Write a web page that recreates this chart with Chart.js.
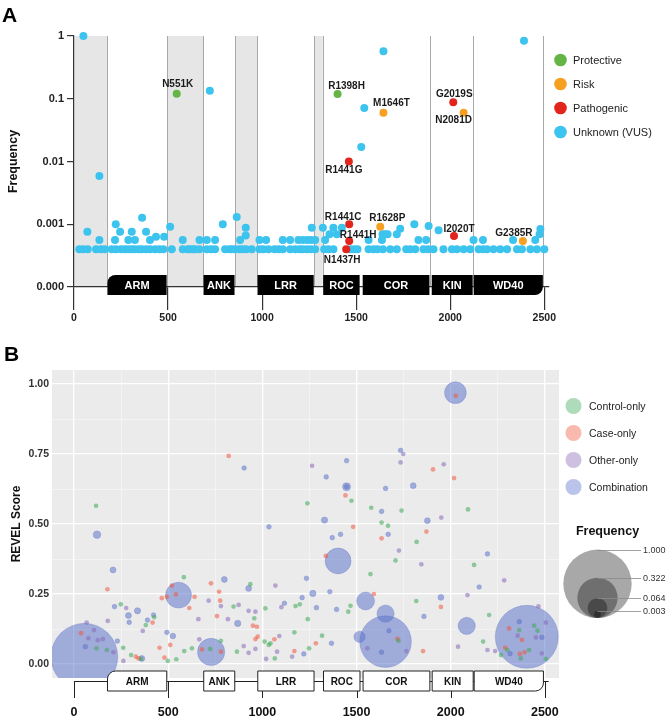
<!DOCTYPE html>
<html>
<head>
<meta charset="utf-8">
<script src="https://cdn.jsdelivr.net/npm/chart.js@4.4.1/dist/chart.umd.min.js"></script>
<style>
    body { margin: 0; background: #fff; }
    #wrapA { position: absolute; left: 0; top: 0; width: 666px; height: 330px; }
    #wrapB { position: absolute; left: 0; top: 330px; width: 666px; height: 388px; }
</style>
</head>
<body>
<div id="wrapA"><canvas id="chartA" width="666" height="330"></canvas></div>
<div id="wrapB"><canvas id="chartB" width="666" height="388"></canvas></div>
<script>
// LRRK2 domains (residues)
var domainNames = ['ARM', 'ANK', 'LRR', 'ROC', 'COR', 'KIN', 'WD40'];
var domainStart = [175, 686, 973, 1322, 1532, 1899, 2122];
var domainEnd = [495, 856, 1277, 1521, 1892, 2122, 2495];
var xTicks = [0, 500, 1000, 1500, 2000, 2500];

// panel A
var freqTicks = [1, 0.1, 0.01, 0.001, 0.0001];
var freqTickLabels = ['1', '0.1', '0.01', '0.001', '0.000'];

var protectiveNames = ['N551K', 'R1398H'];
var protectivePos = [546, 1401];
var protectiveFreq = [0.12, 0.119];

var riskNames = ['M1646T', 'N2081D', 'R1628P', 'G2385R'];
var riskPos = [1645, 2071, 1628, 2386];
var riskFreq = [0.06, 0.06, 0.00091, 0.00054];

var pathoNames = ['R1441G', 'G2019S', 'R1441C', 'R1441H', 'N1437H', 'I2020T'];
var pathoPos = [1461, 2016, 1463, 1463, 1447, 2020];
var pathoFreq = [0.01, 0.088, 0.001, 0.00054, 0.0004, 0.00065];

// unknown (VUS): [position, frequency]
var vusPoints = [
    [50, 1.0], [135, 0.0059], [722, 0.134], [1645, 0.57], [1543, 0.071], [1527, 0.017], [2392, 0.84],
    [362, 0.00127], [865, 0.0013], [222, 0.001], [791, 0.001], [511, 0.00091], [913, 0.00088],
    [1264, 0.00088], [1323, 0.00088], [1379, 0.00088], [1424, 0.00088], [1734, 0.00085], [1809, 0.001],
    [1885, 0.00094], [1938, 0.0008], [2479, 0.00084],
    [71, 0.00076], [245, 0.00076], [307, 0.00076], [383, 0.00076],
    [436, 0.00063], [479, 0.00063], [913, 0.00066], [1358, 0.00069], [1397, 0.00069], [1640, 0.00069],
    [1654, 0.00069], [1667, 0.00069], [1716, 0.00069], [2475, 0.00069],
    [135, 0.00056], [218, 0.00056], [289, 0.00056], [324, 0.00056], [404, 0.00056], [578, 0.00056],
    [667, 0.00056], [706, 0.00056], [750, 0.00056], [883, 0.00056], [986, 0.00056], [1021, 0.00056],
    [1110, 0.00056], [1149, 0.00056], [1193, 0.00056], [1216, 0.00056], [1240, 0.00056], [1260, 0.00056],
    [1282, 0.00056], [1335, 0.00056], [1566, 0.00056], [1637, 0.00056], [1831, 0.00056], [1872, 0.00056],
    [2124, 0.00056], [2174, 0.00056], [2334, 0.00056], [2452, 0.00056],
    [28, 0.0004], [50, 0.0004], [73, 0.0004], [117, 0.0004], [142, 0.0004], [163, 0.0004], [200, 0.0004],
    [223, 0.0004], [250, 0.0004], [271, 0.0004], [289, 0.0004], [307, 0.0004], [324, 0.0004], [345, 0.0004],
    [360, 0.0004], [383, 0.0004], [404, 0.0004], [431, 0.0004], [454, 0.0004], [475, 0.0004], [520, 0.0004],
    [578, 0.0004], [605, 0.0004], [617, 0.0004], [632, 0.0004], [644, 0.0004], [667, 0.0004], [706, 0.0004],
    [728, 0.0004], [750, 0.0004], [803, 0.0004], [826, 0.0004], [839, 0.0004], [856, 0.0004], [880, 0.0004],
    [897, 0.0004], [915, 0.0004], [945, 0.0004], [986, 0.0004], [1007, 0.0004], [1034, 0.0004], [1066, 0.0004],
    [1087, 0.0004], [1110, 0.0004], [1149, 0.0004], [1176, 0.0004], [1199, 0.0004], [1215, 0.0004],
    [1238, 0.0004], [1259, 0.0004], [1282, 0.0004], [1330, 0.0004], [1353, 0.0004], [1379, 0.0004],
    [1468, 0.0004], [1489, 0.0004], [1507, 0.0004], [1566, 0.0004], [1592, 0.0004], [1613, 0.0004],
    [1642, 0.0004], [1681, 0.0004], [1716, 0.0004], [1766, 0.0004], [1787, 0.0004], [1814, 0.0004],
    [1858, 0.0004], [1881, 0.0004], [1911, 0.0004], [1964, 0.0004], [2009, 0.0004], [2035, 0.0004],
    [2071, 0.0004], [2106, 0.0004], [2151, 0.0004], [2174, 0.0004], [2195, 0.0004], [2230, 0.0004],
    [2266, 0.0004], [2302, 0.0004], [2355, 0.0004], [2381, 0.0004], [2426, 0.0004], [2461, 0.0004],
    [2500, 0.0004]
];

// panel B: [position, REVEL score, frequency]
var controlOnly = [
    [117, 0.565, 0.0004], [583, 0.31, 0.0004], [248, 0.213, 0.0004], [426, 0.167, 0.0004], [381, 0.139, 0.0004],
    [261, 0.058, 0.0004], [303, 0.032, 0.0004], [356, 0.018, 0.0004], [119, 0.056, 0.0004], [174, 0.05, 0.0004],
    [585, 0.046, 0.0004], [626, 0.056, 0.0004], [723, 0.054, 0.0004], [498, 0.011, 0.0004], [543, 0.017, 0.0004],
    [780, 0.083, 0.0004], [865, 0.044, 0.0004], [847, 0.205, 0.0004], [936, 0.285, 0.0004], [957, 0.163, 0.0004],
    [1012, 0.08, 0.0004], [1016, 0.199, 0.0004], [1034, 0.068, 0.0004], [1043, 0.074, 0.0004], [1066, 0.02, 0.0004],
    [1170, 0.113, 0.0004], [1176, 0.207, 0.0004], [1199, 0.213, 0.0004], [1241, 0.16, 0.0004], [1248, 0.056, 0.0004],
    [1239, 0.574, 0.0004], [1317, 0.101, 0.0004], [1473, 0.583, 0.0004], [1578, 0.558, 0.0004], [1574, 0.321, 0.0004],
    [1456, 0.187, 0.0004], [1468, 0.208, 0.0004], [1739, 0.548, 0.0004], [2092, 0.552, 0.0004], [1633, 0.505, 0.0004],
    [1667, 0.494, 0.0004], [1819, 0.436, 0.0004], [1707, 0.37, 0.0004], [2124, 0.354, 0.0004], [1817, 0.225, 0.0004],
    [2204, 0.175, 0.0004], [1723, 0.083, 0.0004], [2172, 0.08, 0.0004], [2267, 0.032, 0.0004], [2364, 0.121, 0.0004],
    [2443, 0.137, 0.0004], [2461, 0.119, 0.0004], [2416, 0.05, 0.0004], [2372, 0.02, 0.0004], [2505, 0.018, 0.0004],
    [2300, 0.05, 0.0004]
];
var caseOnly = [
    [177, 0.267, 0.0004], [520, 0.28, 0.0004], [541, 0.249, 0.0004], [466, 0.235, 0.0004], [493, 0.24, 0.0004],
    [612, 0.2, 0.0004], [640, 0.24, 0.0004], [727, 0.288, 0.0004], [417, 0.148, 0.0004], [454, 0.058, 0.0004],
    [511, 0.068, 0.0004], [679, 0.052, 0.0004], [480, 0.023, 0.0004], [328, 0.026, 0.0004], [342, 0.02, 0.0004],
    [37, 0.11, 0.0004], [770, 0.258, 0.0004], [776, 0.226, 0.0004], [759, 0.171, 0.0004], [780, 0.044, 0.0004],
    [821, 0.743, 0.0004], [950, 0.137, 0.0004], [971, 0.133, 0.0004], [963, 0.089, 0.0004], [975, 0.098, 0.0004],
    [1064, 0.088, 0.0004], [1170, 0.046, 0.0004], [1284, 0.074, 0.0004], [1337, 0.386, 0.0004], [1441, 0.602, 0.0004],
    [1482, 0.49, 0.0004], [1592, 0.25, 0.0004], [1906, 0.695, 0.0004], [2018, 0.664, 0.0004], [1633, 0.449, 0.0004],
    [1871, 0.473, 0.0004], [1948, 0.204, 0.0004], [1717, 0.09, 0.0004], [1853, 0.046, 0.0004], [2027, 0.958, 0.0004],
    [2310, 0.127, 0.0004], [2378, 0.086, 0.0004], [2392, 0.042, 0.0004], [2367, 0.036, 0.0004], [2289, 0.058, 0.0004]
];
var otherOnly = [
    [67, 0.148, 0.0004], [179, 0.154, 0.0004], [277, 0.2, 0.0004], [365, 0.118, 0.0004], [262, 0.011, 0.0004],
    [76, 0.092, 0.0004], [106, 0.121, 0.0004], [126, 0.085, 0.0004], [153, 0.089, 0.0004], [209, 0.042, 0.0004],
    [715, 0.226, 0.0004], [660, 0.16, 0.0004], [665, 0.088, 0.0004], [780, 0.207, 0.0004], [817, 0.16, 0.0004],
    [874, 0.211, 0.0004], [901, 0.064, 0.0004], [927, 0.04, 0.0004], [927, 0.19, 0.0004], [963, 0.054, 0.0004],
    [963, 0.187, 0.0004], [1020, 0.018, 0.0004], [1078, 0.044, 0.0004], [1090, 0.1, 0.0004], [1069, 0.28, 0.0004],
    [1101, 0.203, 0.0004], [1158, 0.026, 0.0004], [1264, 0.708, 0.0004], [1734, 0.72, 0.0004], [1748, 0.75, 0.0004],
    [1963, 0.713, 0.0004], [1950, 0.523, 0.0004], [1725, 0.405, 0.0004], [1844, 0.356, 0.0004], [2284, 0.299, 0.0004],
    [2089, 0.246, 0.0004], [2466, 0.206, 0.0004], [1557, 0.056, 0.0004], [1764, 0.046, 0.0004], [2039, 0.062, 0.0004],
    [2195, 0.05, 0.0004], [2236, 0.046, 0.0004], [2355, 0.101, 0.0004], [2505, 0.148, 0.0004], [2452, 0.095, 0.0004],
    [2484, 0.038, 0.0004]
];
var combination = [
    [55, 0.026, 0.95], [2404, 0.097, 0.84], [1654, 0.08, 0.55], [555, 0.246, 0.12], [728, 0.043, 0.134],
    [1402, 0.368, 0.12], [2025, 0.969, 0.08], [1548, 0.225, 0.05], [1654, 0.18, 0.045], [2085, 0.136, 0.045],
    [1516, 0.097, 0.015], [1447, 0.633, 0.005], [122, 0.462, 0.004],
    [207, 0.336, 0.0015], [337, 0.19, 0.002], [289, 0.173, 0.0015], [798, 0.302, 0.0015], [869, 0.145, 0.002],
    [927, 0.27, 0.0015], [1268, 0.252, 0.002], [1330, 0.514, 0.002], [1801, 0.637, 0.0015], [1876, 0.512, 0.0015],
    [1948, 0.238, 0.0015], [360, 0.02, 0.0015], [525, 0.1, 0.0012],
    [215, 0.205, 0.0004], [293, 0.149, 0.0004], [390, 0.157, 0.0004], [422, 0.175, 0.0004], [493, 0.113, 0.0004],
    [230, 0.082, 0.0004], [60, 0.062, 0.0004], [903, 0.70, 0.0004], [1035, 0.49, 0.0004], [1117, 0.217, 0.0004],
    [1211, 0.237, 0.0004], [1234, 0.306, 0.0004], [1220, 0.036, 0.0004], [1287, 0.201, 0.0004], [1339, 0.668, 0.0004],
    [1358, 0.258, 0.0004], [1367, 0.074, 0.0004], [1371, 0.451, 0.0004], [1415, 0.463, 0.0004], [1447, 0.726, 0.0004],
    [1394, 0.195, 0.0004], [1734, 0.763, 0.0004], [1654, 0.627, 0.0004], [1633, 0.545, 0.0004], [1668, 0.463, 0.0004],
    [1858, 0.17, 0.0004], [2195, 0.393, 0.0004], [2151, 0.275, 0.0004], [1672, 0.119, 0.0004], [1633, 0.042, 0.0004],
    [2364, 0.151, 0.0004], [2484, 0.095, 0.0004], [2315, 0.037, 0.0004], [1447, 0.633, 0.0004]
];
var categoryNames = ['Control-only', 'Case-only', 'Other-only', 'Combination'];
var revelTicks = [0, 0.125, 0.25, 0.375, 0.5, 0.625, 0.75, 0.875, 1];
var sizeLegendFreq = [1.000, 0.322, 0.064, 0.003];

Chart.defaults.font.family = "'Liberation Sans', Arial, sans-serif";
Chart.defaults.color = '#222';

var labelOffsets = {
    N551K: [1, -10], R1398H: [9, -8], M1646T: [8, -9], R1441G: [-5, 9],
    G2019S: [1, -8], N2081D: [-10, 8], R1441C: [-6, -7], R1628P: [7, -9],
    R1441H: [9, -6], N1437H: [-4, 11], I2020T: [5, -7], G2385R: [-9, -8]
};
var colorsA = ['#64b446', '#f5a01e', '#e2241c', '#3cc3ee'];
var fillB = ['rgba(62,169,87,0.55)', 'rgba(240,87,62,0.55)', 'rgba(135,105,184,0.55)', 'rgba(91,113,202,0.52)'];
var legendB = ['rgba(62,169,87,0.42)', 'rgba(240,87,62,0.42)', 'rgba(135,105,184,0.42)', 'rgba(91,113,202,0.42)'];

function toPoints(pos, vals) {
    return pos.map(function (p, i) { return { x: p, y: vals[i] }; });
}

function freqRadius(f) {
    return 32.5 * Math.sqrt(f) + 1.7;
}

function toBubbles(rows) {
    return rows.map(function (r) { return { x: r[0], y: r[1], r: freqRadius(r[2]) }; });
}

function drawDomains(ctx, xs, y0, y1, fill, stroke, textColor, fontSize) {
    for (var i = 0; i < domainNames.length; i++) {
        var x0 = xs.getPixelForValue(domainStart[i]) + 0.5;
        var x1 = xs.getPixelForValue(domainEnd[i]) - 0.5;
        var radii = 0;
        if (i === 0) radii = [8, 0, 0, 0];
        if (i === domainNames.length - 1) radii = [0, 0, 8, 0];
        ctx.beginPath();
        ctx.roundRect(x0, y0, x1 - x0, y1 - y0, radii);
        ctx.fillStyle = fill;
        ctx.fill();
        if (stroke) {
            ctx.strokeStyle = stroke;
            ctx.lineWidth = 1;
            ctx.stroke();
        }
        ctx.fillStyle = textColor;
        ctx.font = 'bold ' + fontSize + 'px "Liberation Sans", Arial, sans-serif';
        ctx.textAlign = 'center';
        ctx.textBaseline = 'middle';
        ctx.fillText(domainNames[i], (x0 + x1) / 2, (y0 + y1) / 2 + 1);
    }
}

var panelAPlugin = {
    id: 'panelA',
    beforeDraw: function (chart) {
        var ctx = chart.ctx, xs = chart.scales.x, a = chart.chartArea;
        ctx.save();
        var edges = [];
        for (var i = 0; i < 4; i++) {
            var from = i === 0 ? 0 : domainEnd[i - 1];
            var x0 = xs.getPixelForValue(from), x1 = xs.getPixelForValue(domainStart[i]);
            ctx.fillStyle = '#e6e6e6';
            ctx.fillRect(x0, a.top, x1 - x0, a.bottom - a.top);
            if (i > 0) edges.push(x0);
            edges.push(x1);
        }
        edges.push(xs.getPixelForValue(domainEnd[4]), xs.getPixelForValue(domainEnd[5]), xs.getPixelForValue(domainEnd[6]));
        ctx.strokeStyle = '#a8a8a8';
        ctx.lineWidth = 1;
        edges.forEach(function (px) {
            ctx.beginPath();
            ctx.moveTo(Math.round(px) + 0.5, a.top);
            ctx.lineTo(Math.round(px) + 0.5, a.bottom);
            ctx.stroke();
        });
        ctx.restore();
    },
    afterDatasetsDraw: function (chart) {
        var ctx = chart.ctx, xs = chart.scales.x, ys = chart.scales.y, a = chart.chartArea;
        ctx.save();
        drawDomains(ctx, xs, a.bottom - 12, a.bottom + 8, '#000', null, '#fff', 11);

        var groups = [[protectiveNames, protectivePos, protectiveFreq], [riskNames, riskPos, riskFreq], [pathoNames, pathoPos, pathoFreq]];
        ctx.font = 'bold 10px "Liberation Sans", Arial, sans-serif';
        ctx.fillStyle = '#1a1a1a';
        ctx.textAlign = 'center';
        ctx.textBaseline = 'middle';
        groups.forEach(function (g) {
            g[0].forEach(function (name, i) {
                var off = labelOffsets[name];
                ctx.fillText(name, xs.getPixelForValue(g[1][i]) + off[0], ys.getPixelForValue(g[2][i]) + off[1]);
            });
        });
        ctx.restore();
    },
    afterDraw: function (chart) {
        var ctx = chart.ctx;
        ctx.save();
        var names = ['Protective', 'Risk', 'Pathogenic', 'Unknown (VUS)'];
        names.forEach(function (n, i) {
            var y = 60 + i * 24;
            ctx.beginPath();
            ctx.arc(560.5, y, 6.3, 0, Math.PI * 2);
            ctx.fillStyle = colorsA[i];
            ctx.fill();
            ctx.fillStyle = '#222';
            ctx.font = '11px "Liberation Sans", Arial, sans-serif';
            ctx.textAlign = 'left';
            ctx.textBaseline = 'middle';
            ctx.fillText(n, 573, y + 1);
        });
        ctx.font = 'bold 21px "Liberation Sans", Arial, sans-serif';
        ctx.textBaseline = 'alphabetic';
        ctx.fillStyle = '#000';
        ctx.fillText('A', 2, 22);
        ctx.restore();
    }
};

var chartA = new Chart(document.getElementById('chartA').getContext('2d'), {
    type: 'scatter',
    data: {
        datasets: [
            { label: 'Protective', data: toPoints(protectivePos, protectiveFreq), backgroundColor: colorsA[0] },
            { label: 'Risk', data: toPoints(riskPos, riskFreq), backgroundColor: colorsA[1] },
            { label: 'Pathogenic', data: toPoints(pathoPos, pathoFreq), backgroundColor: colorsA[2] },
            { label: 'Unknown (VUS)', data: vusPoints.map(function (p) { return { x: p[0], y: p[1] }; }), backgroundColor: colorsA[3] }
        ]
    },
    options: {
        responsive: false,
        animation: false,
        events: [],
        layout: { padding: { left: 0, top: 36, right: 117, bottom: 0 } },
        elements: { point: { radius: 4, borderWidth: 0 } },
        datasets: { scatter: { clip: false } },
        plugins: { legend: { display: false }, tooltip: { enabled: false } },
        scales: {
            x: {
                type: 'linear',
                min: 0,
                max: 2525,
                afterBuildTicks: function (s) { s.ticks = xTicks.map(function (v) { return { value: v }; }); },
                afterFit: function (s) { s.height = 43; },
                grid: { drawOnChartArea: false, tickLength: 23, color: '#333', lineWidth: 1.2 },
                border: { color: '#333', width: 1.2 },
                ticks: {
                    font: { weight: 'bold', size: 10.5 },
                    color: '#222',
                    padding: 2,
                    maxRotation: 0,
                    autoSkip: false,
                    callback: function (v) { return String(v); }
                }
            },
            y: {
                type: 'logarithmic',
                min: 0.0001,
                max: 1,
                afterBuildTicks: function (s) { s.ticks = freqTicks.map(function (v) { return { value: v }; }); },
                afterFit: function (s) { s.width = 74; },
                grid: { drawOnChartArea: false, tickLength: 7, color: '#333', lineWidth: 1.2 },
                border: { color: '#333', width: 1.2 },
                ticks: {
                    font: { weight: 'bold', size: 11 },
                    color: '#222',
                    padding: 3,
                    autoSkip: false,
                    callback: function (v) {
                        var i = freqTicks.indexOf(v);
                        return i >= 0 ? freqTickLabels[i] : '';
                    }
                },
                title: { display: true, text: 'Frequency', font: { weight: 'bold', size: 12.5 }, color: '#111', padding: { top: 6, bottom: 0 } }
            }
        }
    },
    plugins: [panelAPlugin]
});

function isMajor(v, step) {
    var q = v / step;
    return Math.abs(q - Math.round(q)) < 1e-6;
}

var panelBPlugin = {
    id: 'panelB',
    beforeDraw: function (chart) {
        var ctx = chart.ctx, a = chart.chartArea;
        ctx.save();
        ctx.fillStyle = '#ebebeb';
        ctx.fillRect(a.left, a.top, a.right - a.left, a.bottom - a.top);
        ctx.restore();
    },
    afterDatasetsDraw: function (chart) {
        var ctx = chart.ctx, xs = chart.scales.x, a = chart.chartArea;
        ctx.save();
        var yc = a.bottom + 3;
        ctx.strokeStyle = '#222';
        ctx.lineWidth = 1;
        ctx.beginPath();
        ctx.moveTo(xs.getPixelForValue(0), yc + 0.5);
        ctx.lineTo(xs.getPixelForValue(2520), yc + 0.5);
        ctx.stroke();
        xTicks.forEach(function (v) {
            var px = Math.round(xs.getPixelForValue(v)) + 0.5;
            ctx.beginPath();
            ctx.moveTo(px, yc);
            ctx.lineTo(px, a.bottom + 20);
            ctx.stroke();
        });
        drawDomains(ctx, xs, a.bottom - 7, a.bottom + 13, '#fff', '#222', '#111', 10);
        ctx.restore();
    },
    afterDraw: function (chart) {
        var ctx = chart.ctx;
        ctx.save();
        categoryNames.forEach(function (n, i) {
            var y = 76 + i * 27;
            ctx.beginPath();
            ctx.arc(573.5, y, 8, 0, Math.PI * 2);
            ctx.fillStyle = legendB[i];
            ctx.fill();
            ctx.fillStyle = '#222';
            ctx.font = '10.5px "Liberation Sans", Arial, sans-serif';
            ctx.textAlign = 'left';
            ctx.textBaseline = 'middle';
            ctx.fillText(n, 589, y + 1);
        });

        ctx.font = 'bold 12.5px "Liberation Sans", Arial, sans-serif';
        ctx.textAlign = 'center';
        ctx.fillStyle = '#111';
        ctx.fillText('Frequency', 607.5, 202);

        var cx = 597.5, bottom = 288;
        sizeLegendFreq.forEach(function (f) {
            var r = freqRadius(f);
            ctx.beginPath();
            ctx.arc(cx, bottom - r, r, 0, Math.PI * 2);
            ctx.fillStyle = 'rgba(0,0,0,0.34)';
            ctx.fill();
        });
        sizeLegendFreq.forEach(function (f) {
            var top = Math.round(bottom - 2 * freqRadius(f)) + 0.5;
            ctx.strokeStyle = '#8a8a8a';
            ctx.lineWidth = 0.8;
            ctx.beginPath();
            ctx.moveTo(cx, top);
            ctx.lineTo(641, top);
            ctx.stroke();
            ctx.fillStyle = '#333';
            ctx.font = '9px "Liberation Sans", Arial, sans-serif';
            ctx.textAlign = 'left';
            ctx.fillText(f.toFixed(3), 643, top);
        });

        ctx.font = 'bold 21px "Liberation Sans", Arial, sans-serif';
        ctx.textBaseline = 'alphabetic';
        ctx.fillStyle = '#000';
        ctx.fillText('B', 4, 31);
        ctx.restore();
    }
};

var chartB = new Chart(document.getElementById('chartB').getContext('2d'), {
    type: 'bubble',
    data: {
        datasets: [
            { label: categoryNames[0], data: toBubbles(controlOnly), backgroundColor: fillB[0] },
            { label: categoryNames[1], data: toBubbles(caseOnly), backgroundColor: fillB[1] },
            { label: categoryNames[2], data: toBubbles(otherOnly), backgroundColor: fillB[2] },
            { label: categoryNames[3], data: toBubbles(combination), backgroundColor: fillB[3], borderColor: 'rgba(91,113,202,0.3)', borderWidth: 1 }
        ]
    },
    options: {
        responsive: false,
        animation: false,
        events: [],
        layout: { padding: { left: 0, top: 40, right: 107, bottom: 0 } },
        elements: { point: { borderWidth: 0 } },
        datasets: { bubble: { clip: 0 } },
        plugins: { legend: { display: false }, tooltip: { enabled: false } },
        scales: {
            x: {
                type: 'linear',
                min: -117,
                max: 2575,
                afterBuildTicks: function (s) {
                    var t = [];
                    for (var v = 0; v <= 2500; v += 250) t.push({ value: v });
                    s.ticks = t;
                },
                afterFit: function (s) { s.height = 40; },
                grid: {
                    drawTicks: false,
                    color: function (c) { return c.tick && isMajor(c.tick.value, 500) ? '#ffffff' : 'rgba(255,255,255,0.65)'; },
                    lineWidth: function (c) { return c.tick && isMajor(c.tick.value, 500) ? 1.3 : 0.6; }
                },
                border: { display: false },
                ticks: {
                    font: { weight: 'bold', size: 12.5 },
                    color: '#111',
                    padding: 27,
                    maxRotation: 0,
                    autoSkip: false,
                    callback: function (v) { return isMajor(v, 500) ? String(v) : ''; }
                }
            },
            y: {
                type: 'linear',
                min: -0.05,
                max: 1.05,
                afterBuildTicks: function (s) { s.ticks = revelTicks.map(function (v) { return { value: v }; }); },
                afterFit: function (s) { s.width = 52; },
                grid: {
                    drawTicks: false,
                    color: function (c) { return c.tick && isMajor(c.tick.value, 0.25) ? '#ffffff' : 'rgba(255,255,255,0.65)'; },
                    lineWidth: function (c) { return c.tick && isMajor(c.tick.value, 0.25) ? 1.3 : 0.6; }
                },
                border: { display: false },
                ticks: {
                    font: { weight: 'bold', size: 10.5 },
                    color: '#333',
                    padding: 3,
                    autoSkip: false,
                    callback: function (v) { return isMajor(v, 0.25) ? v.toFixed(2) : ''; }
                },
                title: { display: true, text: 'REVEL Score', font: { weight: 'bold', size: 12 }, color: '#111', padding: { top: 9, bottom: 0 } }
            }
        }
    },
    plugins: [panelBPlugin]
});
</script>
</body>
</html>
